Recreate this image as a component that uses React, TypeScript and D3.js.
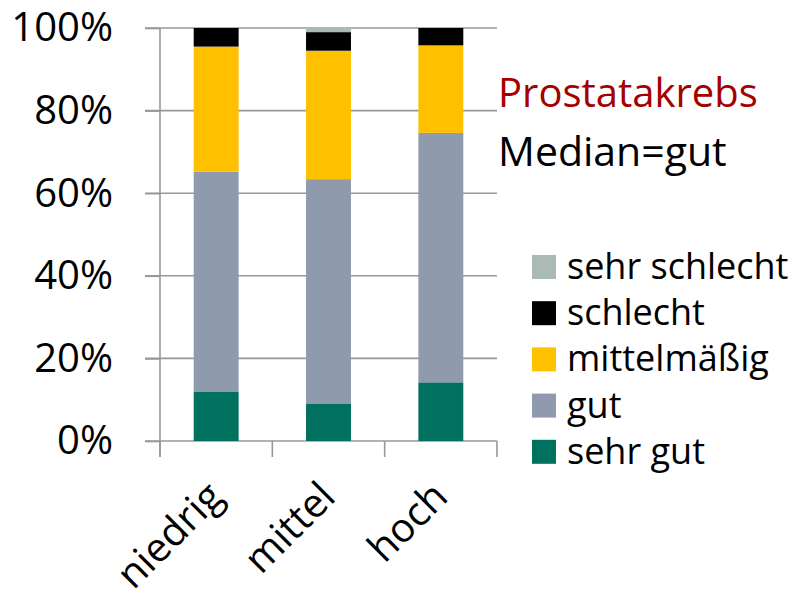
import * as d3 from 'd3'
import { useEffect, useRef } from 'react'

// categories on the x axis
const groups = ['niedrig', 'mittel', 'hoch']
// stack order, bottom to top
const keys = ['sehr gut', 'gut', 'mittelmäßig', 'schlecht', 'sehr schlecht']
const colors = ['#00705f', '#8f9bad', '#ffc000', '#000000', '#a9bbb3']

// share in percent, one array per answer
const sehrGut = [12.0, 9.1, 14.2]
const gut = [53.2, 54.3, 60.4]
const mittelmaessig = [30.3, 31.1, 21.2]
const schlecht = [4.5, 4.5, 4.2]
const sehrSchlecht = [0, 1.0, 0]

const yTicks = [0, 20, 40, 60, 80, 100]

const title = 'Prostatakrebs'
const subtitle = 'Median=gut'

const FONT = '"Open Sans", sans-serif'

export default function App() {
  const ref = useRef<HTMLDivElement | null>(null)

  useEffect(() => {
    const width = 799
    const height = 597
    const marginLeft = 160
    const plotRight = 497
    const marginTop = 28
    const plotBottom = 441

    const values = [sehrGut, gut, mittelmaessig, schlecht, sehrSchlecht]
    const rows = groups.map((g, i) => {
      const row: Record<string, number | string> = { group: g }
      keys.forEach((k, j) => (row[k] = values[j][i]))
      return row
    })

    const series = d3.stack<Record<string, number | string>>().keys(keys)(rows)

    const x = d3.scaleBand().domain(groups).range([marginLeft, plotRight]).padding(0)
    const y = d3.scaleLinear().domain([0, 100]).range([plotBottom, marginTop])
    const color = d3.scaleOrdinal<string>().domain(keys).range(colors)

    const svg = d3
      .create('svg')
      .attr('width', width)
      .attr('height', height)
      .attr('viewBox', [0, 0, width, height])
      .style('position', 'absolute')
      .style('left', '0px')
      .style('top', '0px')
      .style('background', '#fff')
      .style('font-family', FONT)

    const lineColor = '#989898'

    // gridlines (drawn below the bars)
    svg
      .append('g')
      .selectAll('line')
      .data(yTicks)
      .join('line')
      .attr('x1', marginLeft - 15)
      .attr('x2', plotRight)
      .attr('y1', (d) => y(d))
      .attr('y2', (d) => y(d))
      .attr('stroke', lineColor)
      .attr('stroke-width', 1.6)

    // bars
    const barW = x.bandwidth() * 0.4
    svg
      .append('g')
      .selectAll('g')
      .data(series)
      .join('g')
      .attr('fill', (d) => color(d.key))
      .selectAll('rect')
      .data((D) => D)
      .join('rect')
      .attr('x', (d) => x(d.data.group as string)! + (x.bandwidth() - barW) / 2)
      .attr('y', (d) => y(d[1]))
      .attr('height', (d) => y(d[0]) - y(d[1]))
      .attr('width', barW)

    // y axis
    const yAxis = svg
      .append('g')
      .attr('transform', `translate(${marginLeft},0)`)
      .call(
        d3
          .axisLeft(y)
          .tickValues(yTicks)
          .tickSize(15)
          .tickPadding(32)
          .tickFormat((d) => `${d}%`)
      )
    yAxis.select('.domain').remove()
    yAxis.selectAll('line').attr('stroke', lineColor).attr('stroke-width', 1.6)
    yAxis
      .selectAll('text')
      .attr('font-size', 40)
      .attr('font-family', FONT)
      .attr('fill', '#000')
    yAxis
      .append('line')
      .attr('y1', marginTop)
      .attr('y2', plotBottom + 16)
      .attr('stroke', lineColor)
      .attr('stroke-width', 1.6)

    // x axis: ticks between categories
    const xAxis = svg.append('g')
    const bounds = [...groups.map((g) => x(g)!), plotRight]
    xAxis
      .selectAll('line')
      .data(bounds)
      .join('line')
      .attr('x1', (d) => d)
      .attr('x2', (d) => d)
      .attr('y1', plotBottom)
      .attr('y2', plotBottom + 16)
      .attr('stroke', lineColor)
      .attr('stroke-width', 1.6)

    xAxis
      .selectAll('text')
      .data(groups)
      .join('text')
      .attr('transform', (d) => `translate(${x(d)! + x.bandwidth() / 2 + 9},${plotBottom + 58}) rotate(-45)`)
      .attr('text-anchor', 'end')
      .attr('font-size', 40)
      .attr('fill', '#000')
      .text((d) => d)

    // title
    svg
      .append('text')
      .attr('x', 498)
      .attr('y', 107)
      .attr('font-size', 40)
      .attr('fill', '#a50000')
      .text(title)
    svg
      .append('text')
      .attr('x', 498)
      .attr('y', 166)
      .attr('font-size', 41)
      .attr('fill', '#000')
      .text(subtitle)

    // legend, top entry is the top of the stack
    const legend = svg
      .append('g')
      .selectAll('g')
      .data(keys.slice().reverse())
      .join('g')
      .attr('transform', (_, i) => `translate(532,${267 + i * 46.2})`)
    legend
      .append('rect')
      .attr('y', -12)
      .attr('width', 24)
      .attr('height', 24)
      .attr('fill', (d) => color(d))
    legend
      .append('text')
      .attr('x', 35)
      .attr('y', 12)
      .attr('font-size', 36)
      .attr('fill', '#000')
      .text((d) => d)

    if (ref.current) {
      ref.current.innerHTML = ''
      ref.current.appendChild(svg.node()!)
    }
  }, [])

  return <div ref={ref} />
}
